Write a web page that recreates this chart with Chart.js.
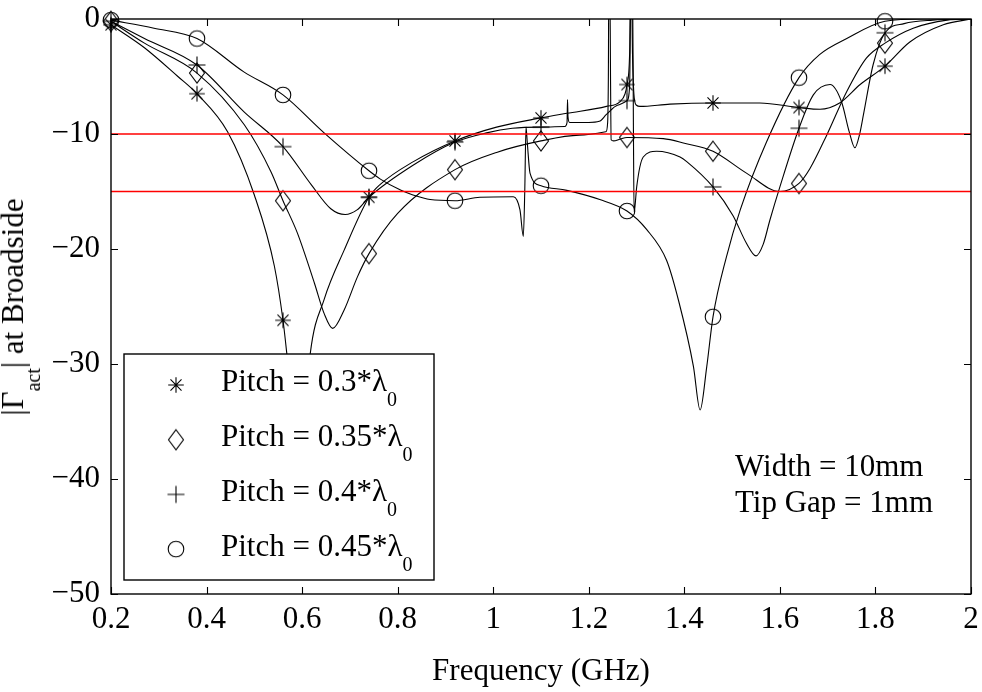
<!DOCTYPE html>
<html>
<head>
<meta charset="utf-8">
<script src="https://cdn.jsdelivr.net/npm/chart.js@4.4.1/dist/chart.umd.min.js"></script>
<style>
  body { margin: 0; background: #fff; }
  #wrap { position: relative; width: 982px; height: 692px; font-family: 'Liberation Serif', 'Times New Roman', serif; color: #000; }
  #wrap canvas { position: absolute; left: 0; top: 0; }
  .txt { position: absolute; font-size: 31px; line-height: 36px; white-space: nowrap; }
  .sub { font-size: 20px; line-height: 36px; vertical-align: -15px; }
</style>
</head>
<body>
<div id="wrap">
  <canvas id="chart" width="982" height="692"></canvas>
  <div class="txt" id="ylabel" style="left:22.5px;top:306.5px;transform:translate(-50%,-50%) rotate(-90deg)">|&Gamma;<span class="sub" style="vertical-align:-17px">act</span>| at Broadside</div>
  <div class="txt" id="xlabel" style="left:541px;top:651.5px;transform:translateX(-50%)">Frequency (GHz)</div>
  <div class="txt" style="left:735px;top:448px">Width = 10mm</div>
  <div class="txt" style="left:735px;top:484px">Tip Gap = 1mm</div>
</div>
<script>
// axes
const xTicks = [0.2, 0.4, 0.6, 0.8, 1, 1.2, 1.4, 1.6, 1.8, 2]
const yTicks = [-50, -40, -30, -20, -10, 0]
const limits = [-10, -15]          // red reference levels (dB)
const pitches = ['0.3', '0.35', '0.4', '0.45']

// marker positions (every 0.18 GHz)
const markFreq = [0.2, 0.38, 0.56, 0.74, 0.92, 1.1, 1.28, 1.46, 1.64, 1.82]
const mark30 = [-0.5, -6.5, -26.2, -15.5, -10.6, -8.6, -5.7, -7.3, -7.7, -4.1]
const mark35 = [-0.2, -4.7, -15.8, -20.4, -13.1, -10.6, -10.3, -11.5, -14.3, -2.1]
const mark40 = [-0.2, -4.0, -11.1, -15.5, -10.7, -9.4, -7.1, -14.6, -9.5, -1.2]
const mark45 = [-0.1, -1.7, -6.6, -13.2, -15.8, -14.5, -16.7, -25.9, -5.1, -0.2]

// |Gamma_act| curves, [GHz, dB]
const curve30 = [
  [0.2,-0.5],[0.27,-2.5],[0.34,-5.0],[0.38,-6.5],[0.444,-9.8],[0.5,-15.3],[0.542,-21.5],[0.56,-26.2],
  [0.568,-29.1],[0.58,-34],[0.595,-40],[0.607,-34],[0.617,-29.1],[0.646,-24.4],[0.688,-20.1],[0.74,-15.5],
  [0.763,-14.4],[0.833,-12.4],[0.92,-10.6],[1.007,-9.4],[1.1,-8.6],[1.154,-8.2],[1.237,-7.6],[1.265,-7.2],
  [1.276,-6.5],[1.28,-5.7],[1.2855,-3],[1.2875,3],[1.2895,3],[1.2915,-3],[1.295,-6.8],[1.3,-7.5],
  [1.307,-7.6],[1.37,-7.4],[1.46,-7.3],[1.558,-7.3],[1.64,-7.7],[1.684,-7.85],[1.725,-7.3],[1.768,-5.7],
  [1.82,-4.1],[1.872,-2.0],[1.942,-0.5],[2.0,0]
]
const curve35 = [
  [0.2,-0.2],[0.27,-2.1],[0.38,-4.7],[0.479,-9.2],[0.535,-13.3],[0.56,-15.8],[0.59,-18.6],[0.626,-23],
  [0.646,-25.6],[0.664,-26.9],[0.688,-25.3],[0.716,-22.4],[0.74,-20.4],[0.8,-16.9],[0.92,-13.1],[1.007,-11.6],
  [1.1,-10.6],[1.18,-10.1],[1.236,-9.8],[1.2395,-9.0],[1.241,-5],[1.242,4],[1.244,4],[1.2455,-5],
  [1.2468,-10.5],[1.252,-10.6],[1.265,-10.45],[1.28,-10.3],[1.356,-10.4],[1.4,-10.8],[1.46,-11.5],[1.53,-13.4],
  [1.6,-15.0],[1.64,-14.3],[1.663,-13],[1.698,-10.1],[1.74,-6.3],[1.781,-3.4],[1.82,-2.1],[1.879,-0.8],
  [1.95,-0.1],[2.0,0]
]
const curve40 = [
  [0.2,-0.2],[0.27,-1.7],[0.38,-4.0],[0.479,-8.1],[0.56,-11.1],[0.619,-14.4],[0.66,-16.5],[0.69,-17.0],
  [0.715,-16.6],[0.74,-15.5],[0.833,-12.7],[0.92,-10.7],[0.986,-9.9],[1.04,-9.5],[1.1,-9.4],[1.15,-9.35],
  [1.1545,-9.0],[1.1555,-7.0],[1.1565,-8.5],[1.16,-9.0],[1.2,-9.0],[1.222,-8.9],[1.237,-8.3],[1.26,-7.5],
  [1.28,-7.1],[1.2855,-5.8],[1.2885,4],[1.2915,4],[1.2935,-10],[1.2948,-16.8],[1.2967,-16.3],[1.3003,-14.6],
  [1.314,-12.0],[1.342,-11.5],[1.391,-12.0],[1.405,-12.4],[1.46,-14.6],[1.502,-17.1],[1.53,-19.5],[1.55,-20.6],
  [1.565,-19.6],[1.579,-17.5],[1.6,-14.6],[1.64,-9.5],[1.67,-6.6],[1.705,-5.7],[1.729,-7.2],[1.745,-9.8],
  [1.757,-11.2],[1.767,-10.0],[1.775,-8.3],[1.795,-4.0],[1.82,-1.2],[1.86,-0.4],[1.92,-0.1],[2.0,0]
]
const curve45 = [
  [0.2,-0.1],[0.29,-0.8],[0.38,-1.7],[0.478,-4.6],[0.56,-6.6],[0.646,-9.9],[0.74,-13.2],[0.763,-13.9],
  [0.807,-14.9],[0.832,-15.3],[0.868,-15.7],[0.92,-15.8],[0.972,-15.5],[1.042,-15.45],[1.056,-16.6],[1.063,-18.9],
  [1.066,-15],[1.0686,-9.4],[1.0714,-10.8],[1.077,-13.4],[1.1,-14.5],[1.154,-14.9],[1.223,-15.7],[1.28,-16.7],
  [1.321,-18.3],[1.363,-21],[1.388,-24.5],[1.419,-30.2],[1.433,-34.0],[1.447,-30.2],[1.46,-25.9],[1.488,-20.7],
  [1.517,-16.6],[1.572,-10.7],[1.64,-5.1],[1.683,-3.1],[1.74,-1.7],[1.82,-0.2],[1.9,0],[2.0,0]
]

// MATLAB-like open markers drawn once into small canvases
function markerCanvas(kind) {
  const c = document.createElement('canvas')
  c.width = 22; c.height = 24
  const g = c.getContext('2d'), cx = 11, cy = 12
  g.strokeStyle = '#000'; g.lineWidth = 1.1
  g.beginPath()
  if (kind === 'star') {
    for (const a of [0, 45, 90, 135]) {
      const t = a * Math.PI / 180, r = 7.8
      g.moveTo(cx - r * Math.cos(t), cy - r * Math.sin(t))
      g.lineTo(cx + r * Math.cos(t), cy + r * Math.sin(t))
    }
  } else if (kind === 'diamond') {
    g.moveTo(cx, cy - 10); g.lineTo(cx + 7.5, cy); g.lineTo(cx, cy + 10); g.lineTo(cx - 7.5, cy); g.closePath()
  } else if (kind === 'plus') {
    g.moveTo(cx - 8.5, cy); g.lineTo(cx + 8.5, cy); g.moveTo(cx, cy - 8.5); g.lineTo(cx, cy + 8.5)
  } else {
    g.arc(cx, cy, 7.8, 0, Math.PI * 2)
  }
  g.stroke()
  return c
}
const markers = ['star', 'diamond', 'plus', 'circle'].map(markerCanvas)

const curveSet = pts => ({
  data: pts.map(([x, y]) => ({ x, y })),
  showLine: true, borderColor: '#000', borderWidth: 1.1, pointRadius: 0,
  cubicInterpolationMode: 'monotone', borderJoinStyle: 'round', order: 2
})
const markerSet = (vals, img) => ({
  data: markFreq.map((x, i) => ({ x, y: vals[i] })),
  showLine: false, pointStyle: img, pointRadius: 8, clip: false, order: 1
})
const limitSet = v => ({
  data: [{ x: xTicks[0], y: v }, { x: xTicks[xTicks.length - 1], y: v }],
  showLine: true, borderColor: '#ff0000', borderWidth: 1.3, pointRadius: 0, order: 0
})

// box with inward ticks on all sides, plus the legend panel
const frame = {
  id: 'frame',
  afterDatasetsDraw(chart) {
    const { ctx, chartArea: a, scales: { x, y } } = chart
    ctx.save()
    // legend panel
    const lx = a.left + 13, ly = a.top + 335, lw = 310, lh = 226
    ctx.fillStyle = '#fff'
    ctx.fillRect(lx, ly, lw, lh)
    ctx.strokeStyle = '#000'; ctx.lineWidth = 1.4
    ctx.strokeRect(lx, ly, lw, lh)
    markers.forEach((m, i) => {
      ctx.drawImage(m, lx + 52 - m.width / 2, ly + 31 + i * 54.7 - m.height / 2)
    })
    // axes box
    ctx.lineWidth = 1.4
    ctx.strokeRect(a.left, a.top, a.right - a.left, a.bottom - a.top)
    ctx.beginPath()
    xTicks.forEach(v => {
      const px = Math.round(x.getPixelForValue(v)) + 0.5
      ctx.moveTo(px, a.bottom); ctx.lineTo(px, a.bottom - 7)
      ctx.moveTo(px, a.top); ctx.lineTo(px, a.top + 7)
    })
    yTicks.forEach(v => {
      const py = Math.round(y.getPixelForValue(v)) + 0.5
      ctx.moveTo(a.left, py); ctx.lineTo(a.left + 7, py)
      ctx.moveTo(a.right, py); ctx.lineTo(a.right - 7, py)
    })
    ctx.lineWidth = 1.1
    ctx.stroke()
    ctx.restore()
  }
}

const tickFont = { family: 'Liberation Serif', size: 31 }

new Chart(document.getElementById('chart'), {
  type: 'scatter',
  data: {
    datasets: [
      ...limits.map(limitSet),
      markerSet(mark30, markers[0]), markerSet(mark35, markers[1]),
      markerSet(mark40, markers[2]), markerSet(mark45, markers[3]),
      curveSet(curve30), curveSet(curve35), curveSet(curve40), curveSet(curve45)
    ]
  },
  options: {
    responsive: false, animation: false, devicePixelRatio: 1, events: [],
    layout: { padding: { top: 19, right: 11, left: 0, bottom: 0 } },
    plugins: { legend: { display: false }, tooltip: { enabled: false } },
    scales: {
      x: {
        type: 'linear', min: 0.2, max: 2,
        grid: { display: false, drawTicks: false }, border: { display: false },
        afterBuildTicks: s => { s.ticks = xTicks.map(v => ({ value: v })) },
        afterFit: s => { s.height = 98; s.paddingLeft = 0; s.paddingRight = 0 },
        ticks: { font: tickFont, color: '#000', padding: 7, maxRotation: 0, autoSkip: false,
                 callback: v => String(Math.round(v * 10) / 10) }
      },
      y: {
        type: 'linear', min: -50, max: 0,
        grid: { display: false, drawTicks: false }, border: { display: false },
        afterBuildTicks: s => { s.ticks = yTicks.map(v => ({ value: v })) },
        afterFit: s => { s.width = 111; s.paddingTop = 0; s.paddingBottom = 0 },
        ticks: { font: tickFont, color: '#000', padding: 11, autoSkip: false,
                 callback: v => v < 0 ? '\u2212' + Math.abs(v) : String(v) }
      }
    }
  },
  plugins: [frame]
})

// legend labels
const wrap = document.getElementById('wrap')
pitches.forEach((p, i) => {
  const d = document.createElement('div')
  d.className = 'txt'
  d.style.left = '221px'
  d.style.top = (363.2 + i * 54.8) + 'px'
  d.innerHTML = 'Pitch = ' + p + '*&lambda;<span class="sub">0</span>'
  wrap.appendChild(d)
})
</script>
</body>
</html>
